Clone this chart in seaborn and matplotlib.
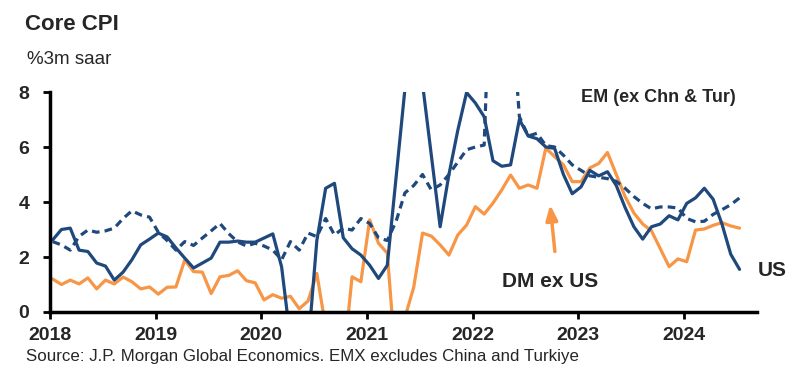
import numpy as np
import pandas as pd
import matplotlib
matplotlib.use("Agg")
import matplotlib.pyplot as plt
import seaborn as sns

# monthly data, Jan 2018 - Jul 2024 (%3m saar)
months = pd.date_range("2018-01-01", "2024-07-01", freq="MS")

us = [2.62, 3.0, 3.05, 2.25, 2.2, 1.78, 1.67, 1.16, 1.45, 1.9, 2.44, 2.65,
      2.87, 2.73, 2.33, 1.96, 1.6, 1.78, 1.96, 2.54, 2.54, 2.58, 2.54, 2.54,
      2.69, 2.84, 1.64, -1.0, -2.4, -1.3, 2.6, 4.5, 4.68, 2.7, 2.3, 2.07,
      1.7, 1.22, 1.7, 4.9, 8.1, 10.4, 8.3, 5.7, 3.1, 5.0, 6.6, 7.98,
      7.6, 7.1, 5.5, 5.3, 5.35, 7.0, 6.4, 6.3, 6.0, 5.95, 5.0, 4.3,
      4.55, 5.15, 4.95, 5.1, 4.6, 3.8, 3.1, 2.65, 3.1, 3.2, 3.5, 3.35,
      3.95, 4.15, 4.5, 4.1, 3.2, 2.1, 1.55]

em = [2.56, 2.44, 2.25, 2.75, 2.98, 2.9, 2.95, 3.05, 3.4, 3.68, 3.53, 3.45,
      2.9, 2.6, 2.25, 2.56, 2.42, 2.69, 2.95, 3.22, 2.85, 2.55, 2.4, 2.5,
      2.4, 2.25, 1.9, 2.56, 2.25, 2.87, 2.74, 3.4, 2.8, 3.05, 2.98, 3.4,
      3.22, 2.7, 2.6, 3.3, 4.33, 4.6, 5.0, 4.44, 4.62, 5.0, 5.45, 5.9,
      6.0, 6.07, 15.0, 14.0, 11.5, 7.1, 6.4, 6.5, 6.05, 6.0, 5.7, 5.35,
      5.15, 4.95, 4.9, 4.85, 4.75, 4.5, 4.2, 3.95, 3.75, 3.82, 3.82, 3.78,
      3.4, 3.28, 3.3, 3.55, 3.72, 3.9, 4.15]

dm = [1.2, 1.0, 1.16, 1.02, 1.24, 0.84, 1.16, 1.02, 1.27, 1.1, 0.84, 0.91,
      0.65, 0.9, 0.91, 1.89, 1.47, 1.45, 0.67, 1.28, 1.33, 1.5, 1.14, 1.06,
      0.44, 0.63, 0.5, 0.57, 0.12, 0.4, 1.4, -0.55, -2.0, -1.9, 1.28, 1.1,
      3.35, 2.5, 2.14, -2.0, -0.2, 0.9, 2.87, 2.76, 2.44, 2.07, 2.8, 3.16,
      3.83, 3.56, 3.96, 4.44, 4.98, 4.5, 4.62, 4.5, 5.96, 5.65, 5.35, 4.74,
      4.74, 5.24, 5.4, 5.8, 5.0, 4.2, 3.6, 3.2, 2.95, 2.3, 1.65, 1.93,
      1.83, 2.98, 3.02, 3.15, 3.25, 3.13, 3.05]

year_ticks = [2018, 2019, 2020, 2021, 2022, 2023, 2024]
y_ticks = [0, 2, 4, 6, 8]

NAVY = "#1F497D"
ORANGE = "#F79646"

sns.set_style("ticks")
plt.rcParams["font.family"] = ["Liberation Sans", "DejaVu Sans"]

# points sit a little after the start of each month on the date axis
dec_year = months.year + (months.month - 1 + 0.3) / 12
df = pd.DataFrame({"x": dec_year, "US": us, "EM": em, "DM": dm})

fig = plt.figure(figsize=(8.11, 3.85), dpi=100)
ax = fig.add_axes([50 / 811, 1 - 312 / 385, 707 / 811, 220 / 385])

sns.lineplot(data=df, x="x", y="DM", ax=ax, color=ORANGE, linewidth=2.3)
sns.lineplot(data=df, x="x", y="EM", ax=ax, color=NAVY, linewidth=2.3,
             linestyle=(0, (2.4, 1.6)))
sns.lineplot(data=df, x="x", y="US", ax=ax, color=NAVY, linewidth=2.3)

ax.set_xlim(2018, 2024.69)
ax.set_ylim(0, 8)
ax.set_xticks(year_ticks)
ax.set_xticklabels([str(y) for y in year_ticks], fontsize=14, fontweight="bold")
ax.set_yticks(y_ticks)
ax.set_yticklabels([str(v) for v in y_ticks], fontsize=14, fontweight="bold")
ax.set_xlabel("")
ax.set_ylabel("")
ax.tick_params(axis="both", direction="out", length=5, width=2, color="black", pad=6)
ax.tick_params(axis="y", pad=10)
for side in ["top", "right"]:
    ax.spines[side].set_visible(False)
for side in ["left", "bottom"]:
    ax.spines[side].set_linewidth(2.5)
    ax.spines[side].set_color("black")

fig.text(25 / 811, 1 - 30 / 385, "Core CPI", fontsize=16, fontweight="bold")
fig.text(27 / 811, 1 - 64 / 385, "%3m saar", fontsize=13.5)
fig.text(26 / 811, 1 - 361 / 385,
         "Source: J.P. Morgan Global Economics. EMX excludes China and Turkiye",
         fontsize=12.2)

ax.text(2023.02, 7.65, "EM (ex Chn & Tur)", fontsize=13, fontweight="bold", ha="left")
ax.text(2022.28, 0.9, "DM ex US", fontsize=15, fontweight="bold", ha="left")
ax.text(2024.7, 1.3, "US", fontsize=15, fontweight="bold", ha="left",
        clip_on=False)
ax.annotate("", xy=(2022.73, 4.0), xytext=(2022.78, 2.1),
            arrowprops=dict(arrowstyle="-|>,head_length=0.9,head_width=0.35",
                            color=ORANGE, linewidth=2.5))

fig.savefig("out.png", dpi=100)
